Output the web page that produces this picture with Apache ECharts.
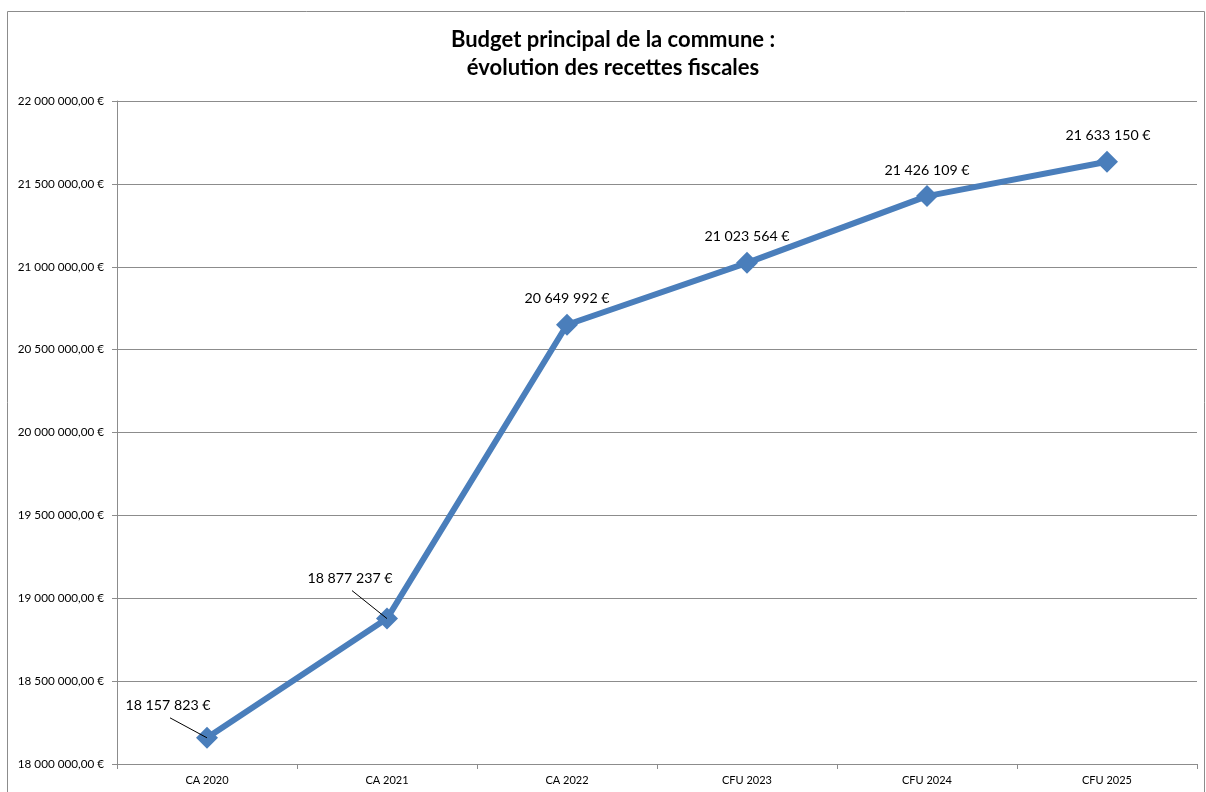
<!DOCTYPE html>
<html>
<head>
<meta charset="utf-8">
<script src="https://cdn.jsdelivr.net/npm/echarts@6/dist/echarts.min.js"></script>
<style>
  html, body { margin: 0; padding: 0; background: #fff; }
  #chart { width: 1206px; height: 792px; }
</style>
</head>
<body>
<div id="chart"></div>
<script>
// Recettes fiscales du budget principal, par exercice
const categories = ['CA 2020', 'CA 2021', 'CA 2022', 'CFU 2023', 'CFU 2024', 'CFU 2025'];
const recettes = [18157823, 18877237, 20649992, 21023564, 21426109, 21633150];
const yMin = 18000000;
const yMax = 22000000;
const yStep = 500000;

const FONT = 'Lato, "Open Sans", sans-serif';

function groupThousands(n) {
  return String(Math.round(n)).replace(/\B(?=(\d{3})+(?!\d))/g, ' ');
}
const axisLabel = v => groupThousands(v) + ',00 €';
const pointLabel = v => groupThousands(v) + ' €';

// the two first labels sit up-left of their point
const labelShift = [
  { dx: -39, dy: -6 },
  { dx: -37, dy: -14 },
  { dx: 0, dy: 0 },
  { dx: 0, dy: 0 },
  { dx: 0, dy: 0 },
  { dx: 1, dy: 0 }
];
// leader lines for those labels: pixel offset of the far end from the point
const leaderEnds = [[-37, -20], [-35, -28], null, null, null, null];

const chart = echarts.init(document.getElementById('chart'), null, { renderer: 'canvas' });

const frame = {
  type: 'rect',
  shape: { x: 7.5, y: 11.5, width: 1197, height: 790 },
  style: { fill: 'none', stroke: '#8c8c8c', lineWidth: 1 },
  silent: true
};

chart.setOption({
  backgroundColor: '#ffffff',
  animation: false,
  title: {
    text: 'Budget principal de la commune :\névolution des recettes fiscales',
    left: 608,
    textAlign: 'center',
    top: 21,
    textStyle: {
      fontFamily: FONT,
      fontSize: 22,
      fontWeight: 'bold',
      color: '#000',
      lineHeight: 28
    }
  },
  graphic: [frame],
  grid: { left: 117, right: 9, top: 101, bottom: 28, containLabel: false },
  xAxis: {
    type: 'category',
    data: categories,
    boundaryGap: true,
    axisLine: { lineStyle: { color: '#8c8c8c', width: 1 } },
    axisTick: { show: true, length: 5, alignWithLabel: false, lineStyle: { color: '#8c8c8c' } },
    axisLabel: { fontFamily: FONT, fontSize: 11, color: '#000', margin: 11 },
    splitLine: { show: false }
  },
  yAxis: {
    type: 'value',
    min: yMin,
    max: yMax,
    interval: yStep,
    axisLine: { show: true, lineStyle: { color: '#8c8c8c', width: 1 } },
    axisTick: { show: true, length: 5, lineStyle: { color: '#8c8c8c' } },
    axisLabel: { fontFamily: FONT, fontSize: 11.7, color: '#000', margin: 13, formatter: axisLabel },
    splitLine: { show: true, lineStyle: { color: '#8c8c8c', width: 1 } }
  },
  series: [{
    type: 'line',
    data: recettes,
    symbol: 'diamond',
    symbolSize: 22,
    z: 3,
    lineStyle: { color: '#4a7ebb', width: 6 },
    itemStyle: { color: '#4a7ebb' },
    label: {
      show: true,
      position: 'top',
      distance: 8,
      fontFamily: FONT,
      fontSize: 14.2,
      color: '#000',
      formatter: p => pointLabel(p.value)
    },
    labelLayout: p => labelShift[p.dataIndex]
  }]
});

// leader lines, anchored on each point's pixel position from the axes
const leaders = [];
recettes.forEach((v, i) => {
  const end = leaderEnds[i];
  if (!end) return;
  const [px, py] = chart.convertToPixel({ seriesIndex: 0 }, [i, v]);
  leaders.push({
    type: 'line',
    shape: { x1: px, y1: py, x2: px + end[0], y2: py + end[1] },
    style: { stroke: '#000', lineWidth: 1 },
    z: 100,
    silent: true
  });
});
chart.setOption({ graphic: [frame].concat(leaders) }, { replaceMerge: ['graphic'] });
</script>
</body>
</html>
